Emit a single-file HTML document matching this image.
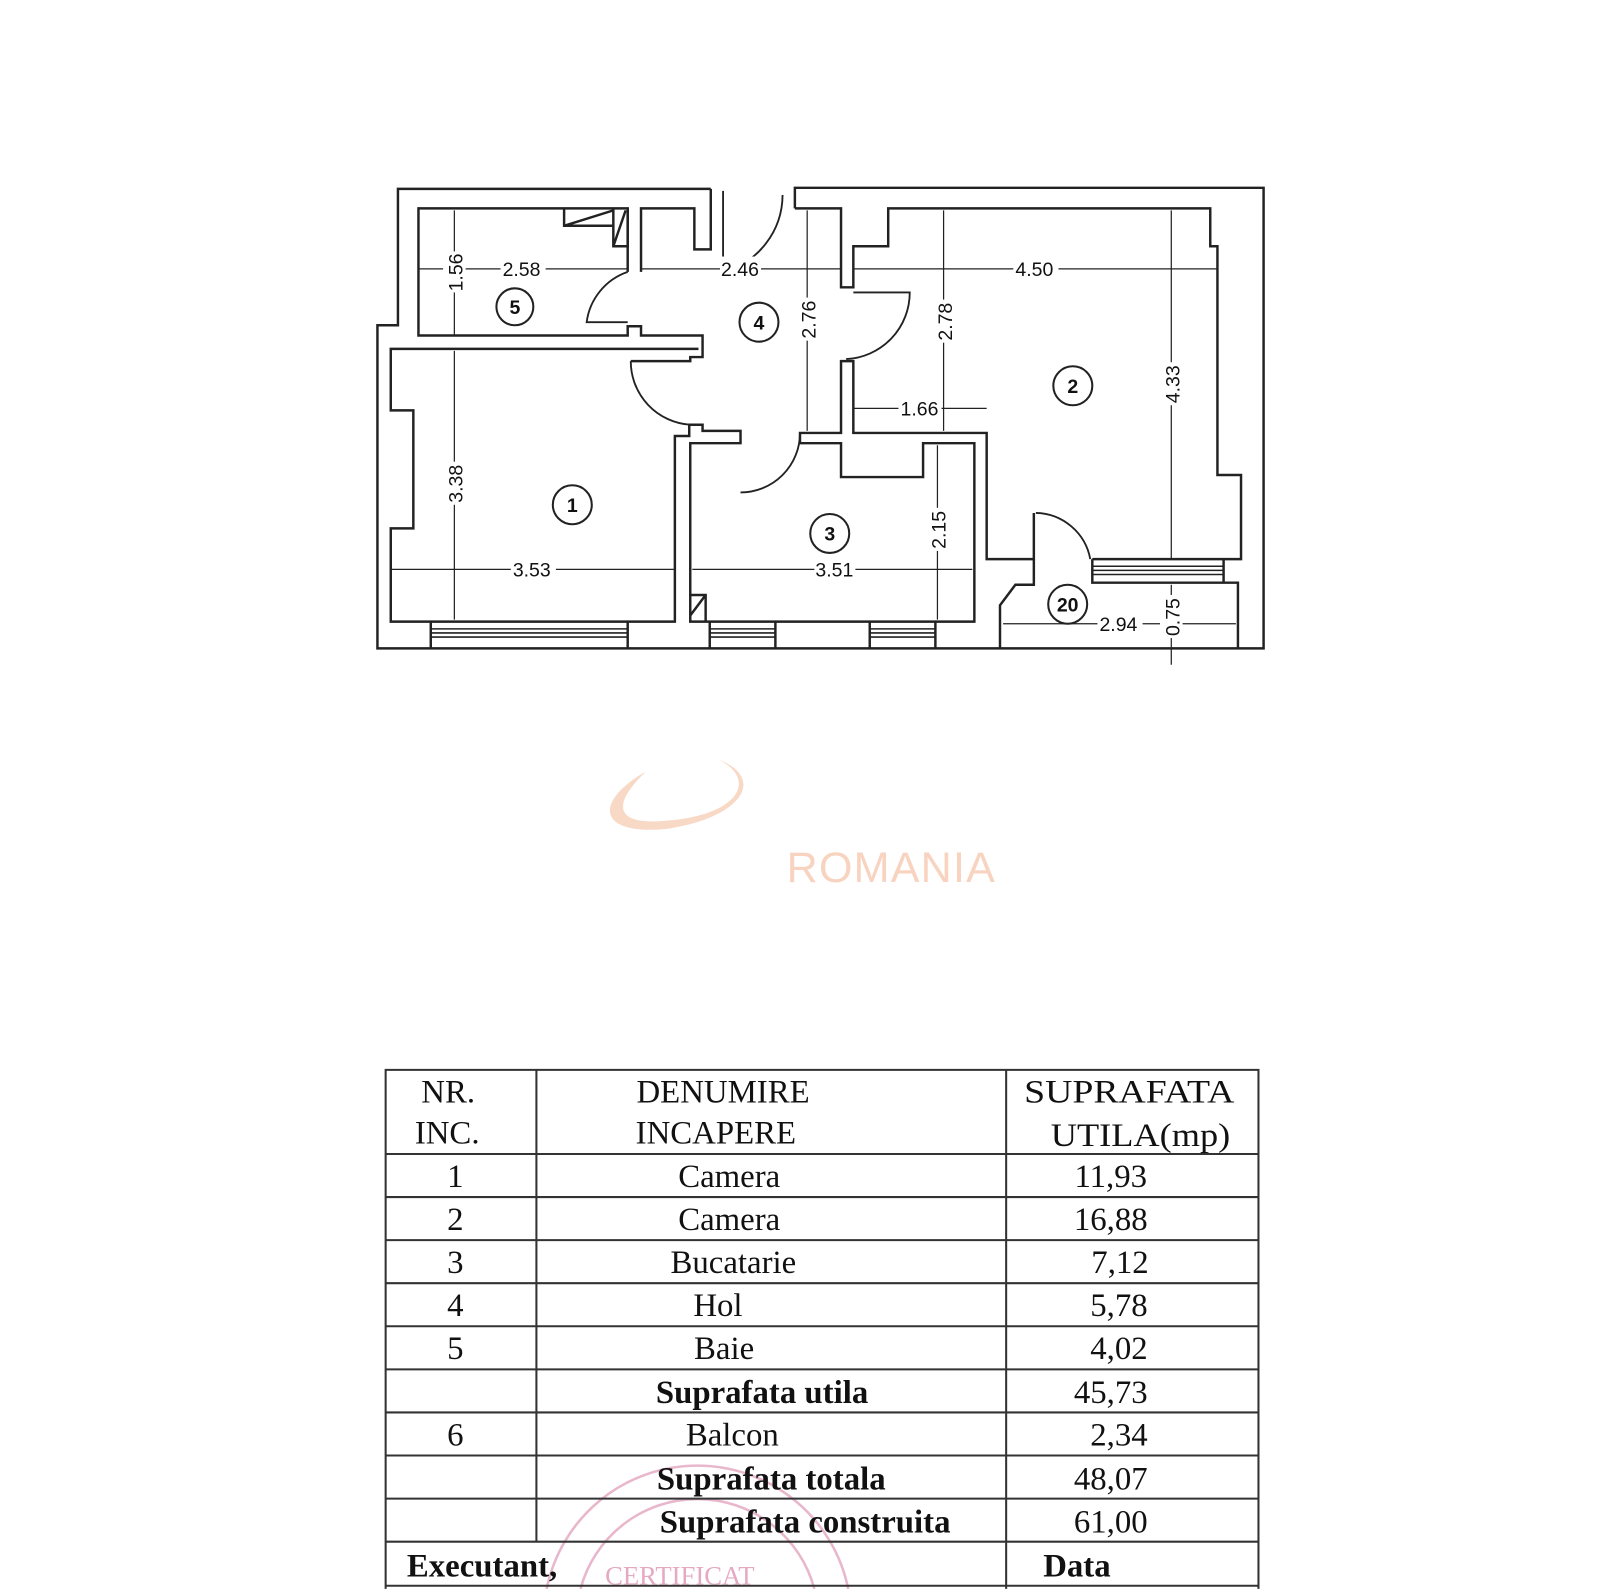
<!DOCTYPE html>
<html><head><meta charset="utf-8"><style>html,body{margin:0;padding:0;background:#fff;width:1600px;height:1590px;overflow:hidden}svg{display:block}</style></head>
<body>
<svg width="1600" height="1590" viewBox="0 0 1560 1550" xmlns="http://www.w3.org/2000/svg">
<rect width="1560" height="1550" fill="#fff"/>
<path d="M630,752 C580,780 580,815 650,808 C720,798 750,760 700,740 C740,760 720,795 650,800 C600,805 595,785 630,752 Z" fill="#f8d9c6"/>
<text x="767" y="860" font-family="Liberation Sans, sans-serif" font-size="42" fill="#f8d3c0" textLength="203">ROMANIA</text>
<g fill="none" stroke="#222" stroke-width="2.4" stroke-linejoin="miter">
<path d="M693,184 L388,184 L388,317 L368,317 L368,632 L1232,632 L1232,183 L775,183 L775,203"/>
<path d="M693,184 L693,243 L677,243 L677,203 L625,203 L625,265"/>
<path d="M612,265 L612,203 L408,203 L408,327 L612,327 L612,318 L625,318 L625,327 L685,327 L685,348 L673,348 L673,352 L615,352"/>
<path d="M612,203 L612,240 L598,240 L598,203"/><path d="M550,203 L550,220 L598,220 M550,220 L598,205 M598,240 L610,205"/>
<path d="M681,340 L381,340 L381,400 L403,400 L403,515 L381,515 L381,606 L658,606 L658,425 L672,425 L672,414 L685,414 L685,420 L722,420 L722,432 L673,432 L673,606 L950,606 L950,432 L900,432 L900,465 L820,465 L820,432 L780,432 L780,422 L820,422 L820,352 L832,352 L832,422 L962,422 L962,545 L1008,545 L1008,500"/>
<path d="M775,203 L820,203 L820,280 L832,280 L832,240 L866,240 L866,203 L1180,203 L1180,240 L1187,240 L1187,463 L1210,463 L1210,545 L1065,545"/>
<path d="M1065,545 L1065,568 L1193,568 L1193,545 M1193,568 L1207,568 L1207,632 M975,632 L975,590 L990,570 L1008,570 L1008,545"/>
<path d="M420,606 L420,632 M612,606 L612,632 M692,606 L692,632 M756,606 L756,632 M848,606 L848,632 M912,606 L912,632 M673,580 L688,580 L688,606 M673,600 L688,580"/>
</g>
<g stroke="#222" stroke-width="1.5">
<path d="M420,613 H612 M420,617 H612 M420,621 H612 M692,613 H756 M692,617 H756 M692,621 H756 M848,613 H912 M848,617 H912 M848,621 H912 M1065,552 H1193 M1065,556 H1193 M1065,560 H1193"/>
</g>
<g fill="none" stroke="#222" stroke-width="1.8">
<path d="M612,265 A60,60 0 0 0 572,314 L612,314"/>
<path d="M615,352 A62,62 0 0 0 673,414"/>
<path d="M705,186 L705,265 M705,265 A78,78 0 0 0 763,190"/>
<path d="M832,285 L887,285 A65,65 0 0 1 825,350"/>
<path d="M722,480 A58,58 0 0 0 780,422"/>
<path d="M1010,500 A55,55 0 0 1 1063,545"/>
</g>
<g stroke="#222" stroke-width="1.2" fill="none">
<path d="M408,262 H612 M625,262 H820 M832,262 H1187 M443,205 V327 M443,342 V604 M787,205 V420 M920,205 V420 M1142,205 V545 M832,398 H962 M381,555 H658 M675,555 H948 M914,434 V604 M978,608 H1205 M1142,570 V648"/>
</g>
<g font-family="Liberation Sans, sans-serif" font-size="19" fill="#111">
<rect x="488" y="250" width="44" height="22" fill="#fff"/><text x="490" y="269">2.58</text>
<rect x="702" y="250" width="40" height="22" fill="#fff"/><text x="703" y="269">2.46</text>
<rect x="988" y="250" width="44" height="22" fill="#fff"/><text x="990" y="269">4.50</text>
<rect x="876" y="387" width="42" height="22" fill="#fff"/><text x="878" y="405">1.66</text>
<rect x="498" y="544" width="44" height="22" fill="#fff"/><text x="500" y="562">3.53</text>
<rect x="794" y="544" width="40" height="22" fill="#fff"/><text x="795" y="562">3.51</text>
<rect x="1070" y="597" width="44" height="22" fill="#fff"/><text x="1072" y="615">2.94</text>
<g transform="rotate(-90)">
<rect x="-285" y="432" width="40" height="22" fill="#fff"/><text x="-284" y="451">1.56</text>
<rect x="-492" y="432" width="42" height="22" fill="#fff"/><text x="-490" y="451">3.38</text>
<rect x="-332" y="776" width="42" height="22" fill="#fff"/><text x="-330" y="795">2.76</text>
<rect x="-334" y="909" width="42" height="22" fill="#fff"/><text x="-332" y="928">2.78</text>
<rect x="-395" y="1131" width="42" height="22" fill="#fff"/><text x="-393" y="1150">4.33</text>
<rect x="-537" y="903" width="42" height="22" fill="#fff"/><text x="-535" y="922">2.15</text>
<rect x="-622" y="1131" width="42" height="22" fill="#fff"/><text x="-620" y="1150">0.75</text>
</g>
</g>
<g font-family="Liberation Sans, sans-serif" font-size="19" font-weight="bold" fill="#111" text-anchor="middle">
<circle cx="502" cy="299" r="18" fill="none" stroke="#222" stroke-width="2"/><text x="502" y="306">5</text>
<circle cx="740" cy="314" r="19" fill="none" stroke="#222" stroke-width="2"/><text x="740" y="321">4</text>
<circle cx="1046" cy="376" r="19" fill="none" stroke="#222" stroke-width="2"/><text x="1046" y="383">2</text>
<circle cx="558" cy="492" r="19" fill="none" stroke="#222" stroke-width="2"/><text x="558" y="499">1</text>
<circle cx="809" cy="520" r="19" fill="none" stroke="#222" stroke-width="2"/><text x="809" y="527">3</text>
<circle cx="1041" cy="589" r="19" fill="none" stroke="#222" stroke-width="2"/><text x="1041" y="596">20</text>
</g>
<g fill="none" stroke="#e3a6c0" stroke-width="2.5" opacity="0.8">
<path d="M533,1549 A150,150 0 0 1 827,1549"/><path d="M566,1549 A118,118 0 0 1 794,1549"/>
</g>
<text x="590" y="1545" font-family="Liberation Serif, serif" font-size="26" fill="#e5a9c2">CERTIFICAT</text>
<g stroke="#333" stroke-width="2" fill="none">
<path d="M376,1549 V1043 H1227 V1549"/>
<path d="M376,1125 H1227 M376,1167 H1227 M376,1209 H1227 M376,1251 H1227 M376,1293 H1227 M376,1335 H1227 M376,1377 H1227 M376,1419 H1227 M376,1461 H1227 M376,1503 H1227 M376,1546 H1227"/>
<path d="M523,1043 V1503 M981,1043 V1549"/>
</g>
<g font-family="Liberation Serif, serif" font-size="32" fill="#111" text-anchor="middle">
<text x="437" y="1075">NR.</text><text x="436" y="1115">INC.</text>
<text x="705" y="1075">DENUMIRE</text><text x="698" y="1115">INCAPERE</text>
<text x="1101" y="1075" textLength="205" lengthAdjust="spacingAndGlyphs">SUPRAFATA</text>
<text x="1112" y="1117" textLength="175" lengthAdjust="spacingAndGlyphs">UTILA(mp)</text>
<text x="444" y="1157">1</text><text x="711" y="1157">Camera</text><text x="1083" y="1157">11,93</text>
<text x="444" y="1199">2</text><text x="711" y="1199">Camera</text><text x="1083" y="1199">16,88</text>
<text x="444" y="1241">3</text><text x="715" y="1241">Bucatarie</text><text x="1092" y="1241">7,12</text>
<text x="444" y="1283">4</text><text x="700" y="1283">Hol</text><text x="1091" y="1283">5,78</text>
<text x="444" y="1325">5</text><text x="706" y="1325">Baie</text><text x="1091" y="1325">4,02</text>
<text x="743" y="1368" font-weight="bold">Suprafata utila</text><text x="1083" y="1368">45,73</text>
<text x="444" y="1409">6</text><text x="714" y="1409">Balcon</text><text x="1091" y="1409">2,34</text>
<text x="752" y="1452" font-weight="bold">Suprafata totala</text><text x="1083" y="1452">48,07</text>
<text x="785" y="1494" font-weight="bold">Suprafata construita</text><text x="1083" y="1494">61,00</text>
<text x="470" y="1537" font-weight="bold">Executant,</text><text x="1050" y="1537" font-weight="bold">Data</text>
</g>
</svg>
</body></html>
